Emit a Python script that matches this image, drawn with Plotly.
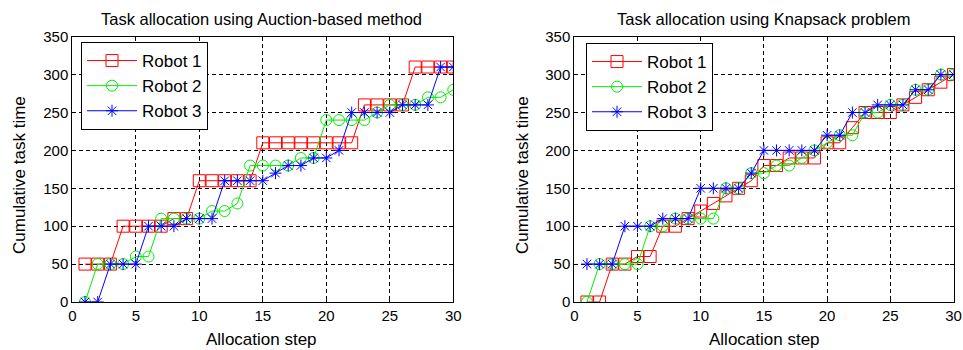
import plotly.graph_objects as go

steps = list(range(1, 31))

# Auction-based method
auc_r1 = [50, 50, 50, 100, 100, 100, 100, 110, 110, 160, 160, 160, 160, 160, 210,
          210, 210, 210, 210, 210, 210, 210, 260, 260, 260, 260, 310, 310, 310, 310]
auc_r2 = [0, 50, 50, 50, 60, 60, 110, 110, 110, 110, 120, 120, 130, 180, 180,
          180, 180, 190, 190, 240, 240, 240, 240, 250, 260, 260, 260, 270, 270, 280]
auc_r3 = [0, 0, 50, 50, 50, 100, 100, 100, 110, 110, 110, 160, 160, 160, 160,
          170, 180, 180, 190, 190, 200, 250, 250, 250, 250, 260, 260, 260, 310, 310]

# Knapsack problem
kn_r1 = [0, 0, 50, 50, 60, 60, 100, 100, 110, 120, 130, 140, 150, 160, 180,
         180, 190, 190, 190, 210, 210, 230, 250, 250, 250, 260, 270, 280, 290, 300]
kn_r2 = [0, 50, 50, 50, 50, 100, 100, 110, 110, 110, 110, 150, 150, 170, 170,
         180, 180, 190, 200, 210, 220, 220, 250, 250, 260, 260, 280, 280, 300, 300]
kn_r3 = [50, 50, 50, 100, 100, 100, 110, 110, 110, 150, 150, 150, 150, 170, 200,
         200, 200, 200, 200, 220, 220, 250, 250, 260, 260, 260, 280, 280, 300, 300]

titles = ["Task allocation using Auction-based method", "Task allocation using Knapsack problem"]
names = ["Robot 1", "Robot 2", "Robot 3"]
colors = ["#ff0000", "#00ee00", "#0000ff"]
symbols = ["square-open", "circle-open", "asterisk-open"]
sizes = [12, 11, 10]

FONT = "Liberation Sans, Arial, sans-serif"
W, H = 963, 350

fig = go.Figure()

data = [[auc_r1, auc_r2, auc_r3], [kn_r1, kn_r2, kn_r3]]
for p, series in enumerate(data):
    xa = "x" if p == 0 else "x2"
    ya = "y" if p == 0 else "y2"
    lg = "legend" if p == 0 else "legend2"
    for i, s in enumerate(series):
        fig.add_trace(go.Scatter(
            x=steps, y=s, name=names[i], mode="lines+markers",
            line=dict(color=colors[i], width=1),
            marker=dict(symbol=symbols[i], size=sizes[i], color=colors[i],
                        line=dict(color=colors[i], width=1)),
            xaxis=xa, yaxis=ya, legend=lg))

# pixel geometry
ytop, ybot = 36.7, 302
ydom = [(H - ybot) / H, (H - ytop) / H]
xdoms = [[72.3 / W, 453.3 / W], [574.3 / W, 953.5 / W]]

axstyle = dict(showline=True, linecolor="black", linewidth=1, mirror="ticks",
               ticks="inside", ticklen=4, tickcolor="black",
               showgrid=True, gridcolor="black", gridwidth=1, griddash="4px,3px",
               zeroline=False, automargin=False, ticklabeloverflow="allow",
               tickfont=dict(family=FONT, size=15, color="black"))

legstyle = dict(xanchor="left", yanchor="top", bordercolor="black", borderwidth=1,
                bgcolor="white", font=dict(family=FONT, size=17), itemwidth=50)

fig.update_layout(
    width=W, height=H, margin=dict(l=0, r=0, t=0, b=0),
    paper_bgcolor="white", plot_bgcolor="white",
    font=dict(family=FONT, color="black"),
    xaxis=dict(domain=xdoms[0], range=[0, 30], dtick=5, anchor="y", **axstyle),
    yaxis=dict(domain=ydom, range=[0, 350], dtick=50, anchor="x", **axstyle),
    xaxis2=dict(domain=xdoms[1], range=[0, 30], dtick=5, anchor="y2", **axstyle),
    yaxis2=dict(domain=ydom, range=[0, 350], dtick=50, anchor="x2", **axstyle),
    legend=dict(x=81 / W, y=1 - 42 / H, **legstyle),
    legend2=dict(x=586 / W, y=1 - 43 / H, **legstyle),
)

anns = []
centers = [261, 764]
ylab_x = [19, 522]
for p in range(2):
    anns.append(dict(text=titles[p], x=centers[p] / W, y=1 - 19 / H, xref="paper", yref="paper",
                     xanchor="center", yanchor="middle", showarrow=False,
                     font=dict(family=FONT, size=16.5, color="black")))
    anns.append(dict(text="Allocation step", x=centers[p] / W, y=1 - 339 / H, xref="paper", yref="paper",
                     xanchor="center", yanchor="middle", showarrow=False,
                     font=dict(family=FONT, size=17, color="black")))
    anns.append(dict(text="Cumulative task time", x=ylab_x[p] / W, y=1 - 175 / H, xref="paper", yref="paper",
                     xanchor="center", yanchor="middle", showarrow=False, textangle=-90,
                     font=dict(family=FONT, size=17, color="black")))
fig.update_layout(annotations=anns)

fig.write_html("out.html", config={"displayModeBar": False},
               post_script="document.body.style.margin='0';document.body.style.overflow='hidden';")
